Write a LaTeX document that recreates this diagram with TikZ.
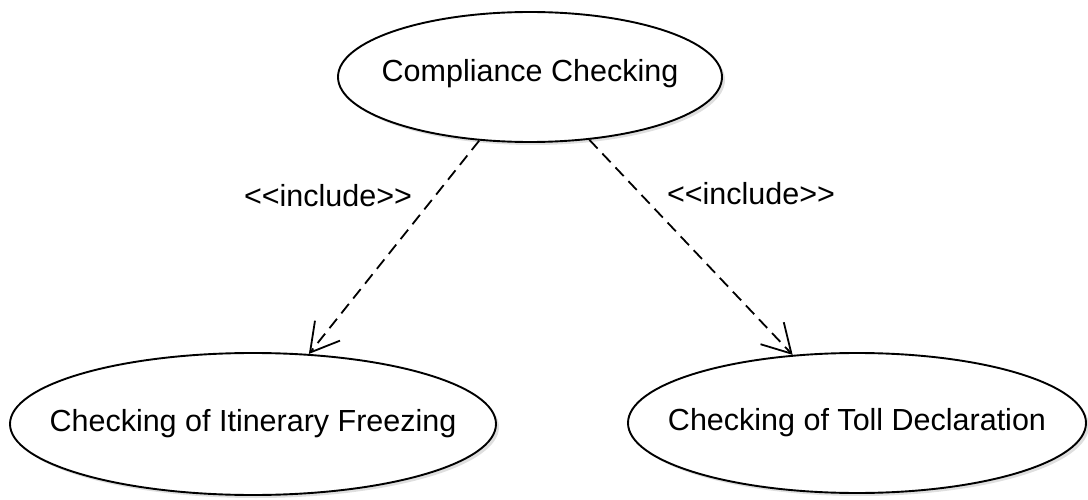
\documentclass[tikz,border=0pt]{standalone}
\usepackage{fontspec}
\setmainfont{Liberation Sans}[Ligatures=TeXOff]
\usetikzlibrary{shapes.geometric,arrows.meta,shadows}

\begin{document}
\begin{tikzpicture}[x=1pt,y=-1pt,
		every node/.style={font=\fontsize{30.5}{36}\selectfont},
		usecase/.style={ellipse, draw, line width=1.9pt, fill=white, inner sep=0pt,
			drop shadow={shadow xshift=3pt, shadow yshift=-3pt, opacity=.25}},
		incl/.style={line width=1.8pt, dash pattern=on 12pt off 7pt,
			-{Straight Barb[length=28pt, width=32pt]}}]
			\useasboundingbox (0,0) rectangle (1088,500);
			\node[usecase, minimum width=384pt, minimum height=130pt,
				label={[yshift=3pt]center:Compliance Checking}] (compliance) at (530,77) {};
			\node[usecase, minimum width=486pt, minimum height=142pt,
				label={center:Checking of Itinerary Freezing}] (freezing) at (253,424) {};
			\node[usecase, minimum width=458pt, minimum height=140pt,
				label={center:Checking of Toll Declaration}] (toll) at (857,423) {};
			\draw[incl] (compliance) -- (freezing);
			\draw[incl] (compliance) -- (toll);
			\node (inclA) at (328,196) {<<include>>};
			\node (inclB) at (751,194) {<<include>>};
		\end{tikzpicture}
\end{document}
